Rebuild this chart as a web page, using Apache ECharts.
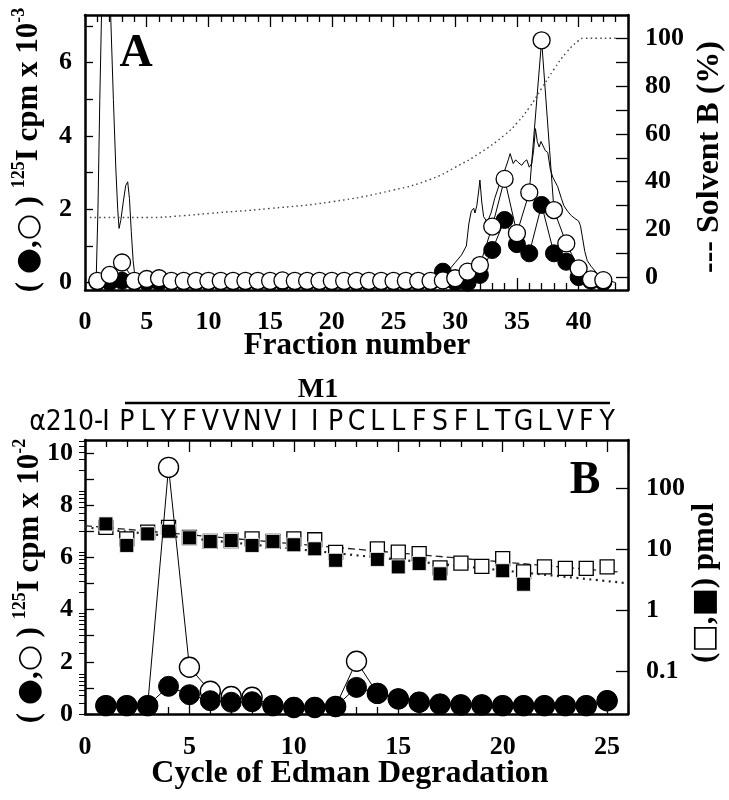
<!DOCTYPE html>
<html><head><meta charset="utf-8">
<script src="https://cdn.jsdelivr.net/npm/echarts@6/dist/echarts.min.js"></script>
<style>html,body{margin:0;padding:0;background:#fff}#c{width:729px;height:800px}</style>
</head><body><div id="c"></div>
<script>
// ---------- Panel A ----------
const fractionNumbers = [1,2,3,4,5,6,7,8,9,10,11,12,13,14,15,16,17,18,19,20,21,22,23,24,25,26,27,28,29,30,31,32,33,34,35,36,37,38,39,40,41,42];
const cpmOpenA   = [0.05,0.21,0.55,0.05,0.10,0.12,0.05,0.05,0.05,0.05,0.05,0.05,0.05,0.05,0.05,0.06,0.05,0.05,0.05,0.05,0.05,0.05,0.05,0.05,0.05,0.05,0.05,0.05,0.06,0.12,0.30,0.48,1.53,2.83,1.35,2.46,6.61,1.98,1.07,0.39,0.09,0.07];
const cpmFilledA = [0.02,0.02,0.05,0.02,0.02,0.02,0.02,0.02,0.02,0.02,0.02,0.02,0.02,0.02,0.02,0.02,0.02,0.02,0.02,0.02,0.02,0.02,0.02,0.02,0.02,0.02,0.02,0.02,0.30,0.02,0.00,0.21,0.89,1.71,1.05,0.80,2.12,0.80,0.57,0.15,0.05,0.02];
const traceA = [[0,0],[0.9,0],[1.05,2],[1.2,5],[1.35,7.5],[1.6,10],[1.75,10.5],[1.9,9.5],[2.08,7.3],[2.3,5.0],[2.5,3.1],[2.65,2.0],[2.76,1.48],[2.9,1.7],[3.1,2.2],[3.3,2.65],[3.46,2.75],[3.6,2.3],[3.75,1.4],[3.9,0.6],[4.0,0.3],[4.15,0.05],[4.5,0],
  [28.5,0],[29.0,0.15],[29.5,0.35],[30.0,0.55],[30.5,0.75],[30.9,1.0],[31.1,1.6],[31.3,1.95],[31.5,2.03],[31.6,1.9],[31.75,2.1],[31.9,2.5],[32.0,2.8],[32.15,2.2],[32.3,1.8],[32.6,1.65],[32.9,1.9],[33.2,2.3],[33.6,2.7],[34.0,3.05],[34.3,3.35],[34.45,3.52],[34.7,3.25],[34.9,3.35],[35.1,3.28],[35.4,3.2],[35.6,3.3],[35.8,3.35],[36.0,3.15],[36.2,3.25],[36.35,3.6],[36.5,4.2],[36.65,3.85],[36.8,3.7],[36.95,3.85],[37.1,3.8],[37.3,3.6],[37.5,3.55],[37.7,3.1],[37.9,2.88],[38.1,2.75],[38.3,2.62],[38.6,2.3],[38.8,2.1],[39.1,1.95],[39.4,1.83],[39.7,1.75],[40.0,1.68],[40.15,1.55],[40.3,1.25],[40.5,0.85],[40.7,0.6],[41.0,0.45],[41.5,0.25],[42.0,0.12],[42.5,0.05],[43,0]];
const solventB = [[0.4,25],[5,25],[8,25.8],[10,26.7],[15,28.8],[20,31.6],[25,36.5],[28,41],[30,46],[32,52],[34,59.5],[35,64.5],[36,71],[37,79],[38,87],[39,94],[40,99],[40.4,100],[43,100]];
const fractionTicks = [0,5,10,15,20,25,30,35,40];
const cpmTicksA = [0,1,2,3,4,5,6,7];
const cpmLabelsA = [0,2,4,6];
const solventTicks = [0,10,20,30,40,50,60,70,80,90,100];
const solventLabels = [0,20,40,60,80,100];

// ---------- Panel B ----------
const cycles = [1,2,3,4,5,6,7,8,9,10,11,12,13,14,15,16,17,18,19,20,21,22,23,24,25];
const residues = ['I','P','L','Y','F','V','V','N','V','I','I','P','C','L','L','F','S','F','L','T','G','L','V','F','Y'];
const cpmOpenB   = [0.32,0.32,0.32,9.45,1.79,0.87,0.67,0.64,0.32,0.25,0.25,0.29,2.02,0.79,0.58,0.45,0.38,0.35,0.35,0.32,0.32,0.32,0.32,0.32,0.51];
const cpmFilledB = [0.32,0.32,0.32,1.06,0.74,0.51,0.45,0.47,0.32,0.25,0.25,0.28,1.02,0.79,0.58,0.45,0.38,0.35,0.35,0.32,0.32,0.32,0.32,0.32,0.51];
const pmolOpen   = [23.2,15.0,19.3,23.2,15.8,13.6,14.1,15.0,13.6,15.0,14.5,9.0,null,10.3,9.1,8.6,5.0,6.0,5.3,7.1,4.3,5.2,4.9,4.9,5.2];
const pmolFilled = [26.4,11.7,18.1,20.0,15.6,13.6,14.1,11.7,13.6,12.0,10.3,6.67,null,6.9,5.2,5.9,4.0,null,null,4.5,2.7,null,null,null,null];
const fitOpen   = [[0,24.7],[25.5,4.3]];
const fitFilled = [[0,23.2],[26,2.8]];
const cycleTicks = [0,5,10,15,20,25];
const cpmTicksB = [0,1,2,3,4,5,6,7,8,9,10];
const cpmLabelsB = [0,2,4,6,8,10];
const pmolTicks = [0.1,1,10,100];
const pmolMinorTicks = [0.02,0.03,0.04,0.05,0.06,0.07,0.08,0.09,0.2,0.3,0.4,0.5,0.6,0.7,0.8,0.9,2,3,4,5,6,7,8,9,20,30,40,50,60,70,80,90,200,300,400,500,600];

// ---------- build ----------
const SERIF = "'Liberation Serif','Times New Roman',Times,serif";
const SANS = "'Liberation Sans Narrow','DejaVu Sans Condensed','Liberation Sans',Arial,sans-serif";
const zip = (xs, ys) => xs.map((x, i) => [x, ys[i]]).filter(p => p[1] !== null);
const axisLine = {show: true, onZero: false, lineStyle: {color: '#000', width: 2.5}};
const tickStyle = {color: '#000', width: 1.3};
const lbl = (extra) => Object.assign({color: '#000', fontFamily: SERIF, fontWeight: 'bold', fontSize: 26}, extra);
const noSplit = {splitLine: {show: false}, minorSplitLine: {show: false}};

const xAxis = [
  Object.assign({type: 'value', gridIndex: 0, position: 'bottom', min: 0, max: 44, interval: 5, axisLine,
    axisTick: {inside: true, length: 12, lineStyle: tickStyle},
    minorTick: {show: true, splitNumber: 5, length: 7, lineStyle: tickStyle},
    axisLabel: lbl({customValues: fractionTicks, margin: 19})}, noSplit),
  Object.assign({type: 'value', gridIndex: 0, position: 'top', min: 0, max: 44, interval: 5, axisLine,
    axisTick: {inside: true, length: 12, lineStyle: tickStyle},
    minorTick: {show: true, splitNumber: 5, length: 7, lineStyle: tickStyle},
    axisLabel: {show: false}}, noSplit),
  Object.assign({type: 'value', gridIndex: 1, position: 'bottom', min: 0, max: 26, interval: 5, axisLine,
    axisTick: {inside: true, length: 12, lineStyle: tickStyle},
    minorTick: {show: true, splitNumber: 5, length: 7, lineStyle: tickStyle},
    axisLabel: lbl({customValues: cycleTicks, margin: 20})}, noSplit),
  Object.assign({type: 'value', gridIndex: 1, position: 'top', min: 0, max: 26, interval: 5, axisLine,
    axisTick: {inside: true, length: 12, lineStyle: tickStyle},
    minorTick: {show: true, splitNumber: 5, length: 7, lineStyle: tickStyle},
    axisLabel: {show: false}}, noSplit),
  Object.assign({type: 'value', gridIndex: 1, position: 'top', min: 0, max: 26,
    axisLine: {show: false}, axisTick: {show: false},
    axisLabel: {customValues: cycles, margin: 3, color: '#000', fontFamily: SANS, fontSize: 28,
      formatter: v => residues[Math.round(v) - 1] || ''}}, noSplit)
];

const yAxis = [
  Object.assign({type: 'value', gridIndex: 0, position: 'left', min: -0.2, max: 7.3, axisLine,
    axisTick: {inside: true, length: 8, lineStyle: tickStyle, customValues: cpmTicksA},
    axisLabel: lbl({customValues: cpmLabelsA, margin: 13})}, noSplit),
  Object.assign({type: 'value', gridIndex: 0, position: 'right', min: -5.3, max: 109.7, axisLine,
    axisTick: {inside: true, length: 12, lineStyle: tickStyle, customValues: solventTicks},
    axisLabel: lbl({customValues: solventLabels, margin: 17})}, noSplit),
  Object.assign({type: 'value', gridIndex: 1, position: 'left', min: 0, max: 10.5, axisLine,
    axisTick: {inside: true, length: 9, lineStyle: tickStyle, customValues: cpmTicksB},
    axisLabel: lbl({customValues: cpmLabelsB, margin: 12})}, noSplit),
  Object.assign({type: 'log', logBase: 10, gridIndex: 1, position: 'right', min: 0.02, max: 630, axisLine,
    axisTick: {inside: true, length: 12, lineStyle: tickStyle, customValues: pmolTicks},
    axisLabel: lbl({customValues: pmolTicks, margin: 18, formatter: v => String(+(+v).toPrecision(6))})}, noSplit),
  Object.assign({type: 'log', logBase: 10, gridIndex: 1, position: 'right', min: 0.02, max: 630,
    axisLine: {show: false},
    axisTick: {inside: true, length: 6, lineStyle: {color: '#000', width: 1}, customValues: pmolMinorTicks},
    axisLabel: {show: false}}, noSplit)
];

const thin = {color: '#000', width: 1};
const series = [
  {type: 'line', xAxisIndex: 0, yAxisIndex: 0, data: traceA, symbol: 'none', lineStyle: thin, clip: true, z: 2},
  {type: 'line', xAxisIndex: 0, yAxisIndex: 1, data: solventB, symbol: 'none', smooth: true,
    lineStyle: {color: '#444', width: 1.4, type: [1.5, 3.2]}, z: 2},
  {type: 'line', xAxisIndex: 0, yAxisIndex: 0, data: zip(fractionNumbers, cpmFilledA), symbol: 'circle', symbolSize: 17,
    itemStyle: {color: '#000', borderColor: '#000', borderWidth: 1}, lineStyle: thin, z: 3},
  {type: 'line', xAxisIndex: 0, yAxisIndex: 0, data: zip(fractionNumbers, cpmOpenA), symbol: 'circle', symbolSize: 17,
    itemStyle: {color: '#fff', borderColor: '#000', borderWidth: 1.3}, lineStyle: thin, z: 4},

  {type: 'line', xAxisIndex: 2, yAxisIndex: 3, data: fitOpen, symbol: 'none', lineStyle: {color: '#222', width: 1.3, type: [7, 4]}, z: 2},
  {type: 'line', xAxisIndex: 2, yAxisIndex: 3, data: fitFilled, symbol: 'none', lineStyle: {color: '#222', width: 2.2, type: [2, 4.5]}, z: 2},
  {type: 'scatter', xAxisIndex: 2, yAxisIndex: 3, data: zip(cycles, pmolOpen), symbol: 'rect', symbolSize: 14,
    itemStyle: {color: '#fff', borderColor: '#000', borderWidth: 1.3, opacity: 1}, z: 3},
  {type: 'scatter', xAxisIndex: 2, yAxisIndex: 3, data: zip(cycles, pmolFilled), symbol: 'rect', symbolSize: 14,
    itemStyle: {color: '#000', borderColor: '#fff', borderWidth: 0.8, opacity: 1}, z: 4},
  {type: 'line', xAxisIndex: 2, yAxisIndex: 2, data: zip(cycles, cpmOpenB), symbol: 'circle', symbolSize: 20,
    itemStyle: {color: '#fff', borderColor: '#000', borderWidth: 1.4}, lineStyle: thin, z: 5},
  {type: 'line', xAxisIndex: 2, yAxisIndex: 2, data: zip(cycles, cpmFilledB), symbol: 'circle', symbolSize: 20,
    itemStyle: {color: '#000', borderColor: '#000', borderWidth: 1}, lineStyle: thin, z: 6}
];

const mainTok = {fontFamily: SERIF, fontWeight: 'bold', fontSize: 31, fill: '#000'};
const supTok = {fontFamily: SERIF, fontWeight: 'bold', fontSize: 18, fill: '#000', padding: [0, 0, 20, 0]};
const symTok = {fontFamily: "'DejaVu Sans',sans-serif", fontSize: 30, fill: '#000'};
const cpmTitle = (exp) => ({
  text: '{n|( }{c|\u25CF}{n|,}{c|\u25CB}{n| ) }{s|125}{n|I cpm x 10}{s|' + exp + '}',
  rich: {n: mainTok, c: symTok, s: supTok}, align: 'center', verticalAlign: 'middle'
});
const txt = (x, y, text, size, extra) => ({type: 'text', x, y, silent: true,
  style: Object.assign({text, fill: '#000', fontFamily: SERIF, fontWeight: 'bold', fontSize: size, align: 'center', verticalAlign: 'middle'}, extra || {})});

const graphic = [
  txt(136, 54, 'A', 46),
  txt(585, 481, 'B', 46),
  txt(357, 346, 'Fraction number', 31),
  txt(350, 774, 'Cycle of Edman Degradation', 32),
  txt(318, 390, 'M1', 28),
  {type: 'line', silent: true, shape: {x1: 125, y1: 403, x2: 610, y2: 403}, style: {stroke: '#000', lineWidth: 2.5}},
  txt(103, 423, '\u03B1210-', 28, {fontFamily: SANS, fontWeight: 'normal', align: 'right'}),
  {type: 'text', x: 29, y: 150, rotation: Math.PI / 2, silent: true, style: cpmTitle('-3')},
  {type: 'text', x: 30, y: 581, rotation: Math.PI / 2, silent: true, style: cpmTitle('-2')},
  Object.assign(txt(710, 157, '--- Solvent B (%)', 32), {rotation: Math.PI / 2}),
  {type: 'text', x: 705, y: 583, rotation: Math.PI / 2, silent: true, style: {
    text: '{n|(}{q|\u25A1}{n|,}{q|\u25A0}{n|) pmol}', rich: {n: mainTok, q: {fontFamily: "'DejaVu Sans',sans-serif", fontSize: 30, fill: '#000'}},
    align: 'center', verticalAlign: 'middle'}}
];

const chart = echarts.init(document.getElementById('c'), null, {renderer: 'canvas'});
chart.setOption({
  animation: false,
  backgroundColor: '#fff',
  grid: [
    {left: 85, top: 15, width: 543, height: 275, containLabel: false, outerBoundsMode: 'none'},
    {left: 85, top: 440, width: 543, height: 274, containLabel: false, outerBoundsMode: 'none'}
  ],
  xAxis, yAxis, series, graphic
});
</script></body></html>
